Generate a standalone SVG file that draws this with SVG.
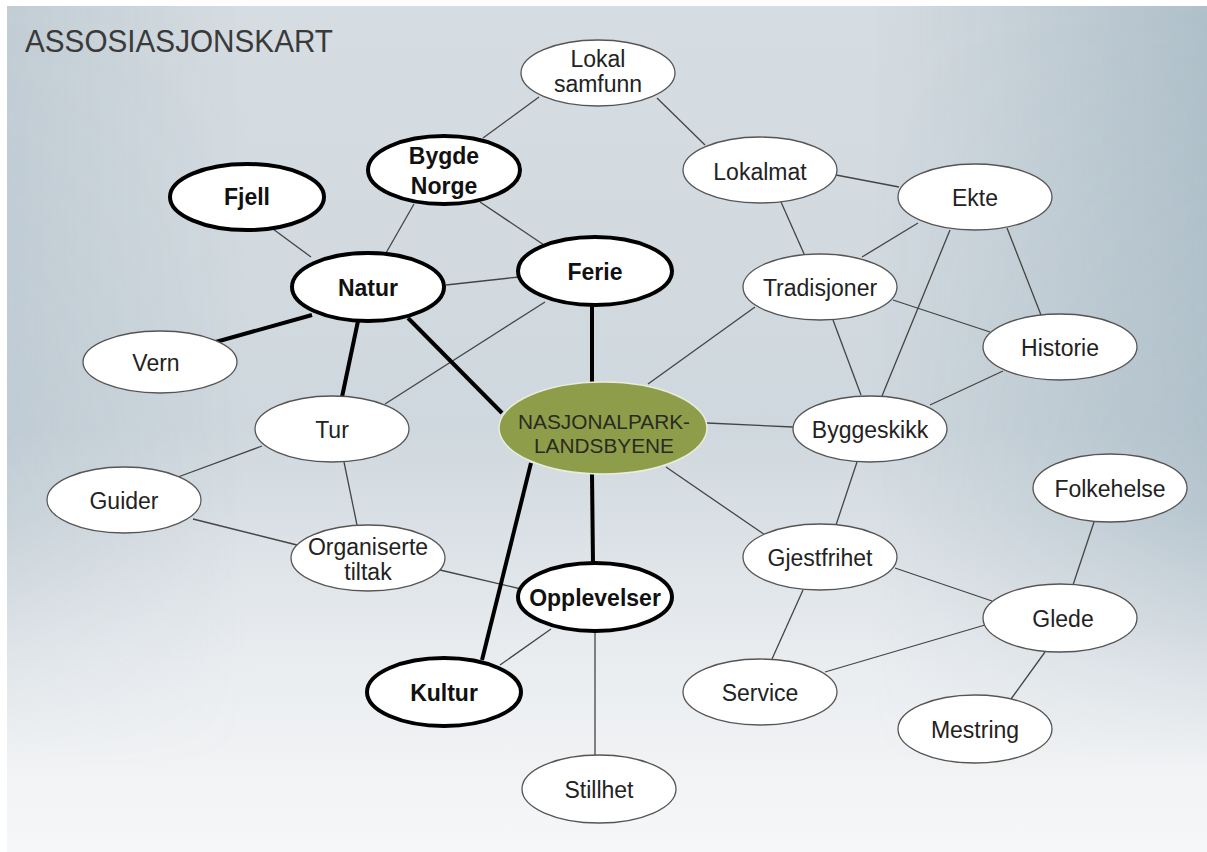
<svg xmlns="http://www.w3.org/2000/svg" width="1207" height="852" viewBox="0 0 1207 852">
<defs>
<linearGradient id="bgV" x1="0" y1="0" x2="0" y2="1">
<stop offset="0" stop-color="#d6dde2"/>
<stop offset="0.5" stop-color="#cfd8de"/>
<stop offset="0.78" stop-color="#eaedf0"/>
<stop offset="1" stop-color="#f6f7f8"/>
</linearGradient>
<linearGradient id="bgH" x1="0" y1="0" x2="1" y2="0">
<stop offset="0" stop-color="#93a8b6" stop-opacity="0.3"/>
<stop offset="0.2" stop-color="#93a8b6" stop-opacity="0"/>
<stop offset="0.72" stop-color="#93a8b6" stop-opacity="0"/>
<stop offset="1" stop-color="#8fa7b5" stop-opacity="0.55"/>
</linearGradient>
<linearGradient id="fadeV" x1="0" y1="0" x2="0" y2="1">
<stop offset="0" stop-color="#fff" stop-opacity="1"/>
<stop offset="0.6" stop-color="#fff" stop-opacity="0.8"/>
<stop offset="0.9" stop-color="#fff" stop-opacity="0"/>
</linearGradient>
<mask id="m">
<rect x="0" y="0" width="1207" height="852" fill="url(#fadeV)"/>
</mask>
</defs>
<style>
.thin{fill:#fff;stroke:#555;stroke-width:1.3}
.thick{fill:#fff;stroke:#000;stroke-width:4}
.t{font-family:"Liberation Sans",Arial,sans-serif;font-size:23px;fill:#222;text-anchor:middle}
.b{font-family:"Liberation Sans",Arial,sans-serif;font-size:23px;font-weight:bold;fill:#111;text-anchor:middle}
.c{font-family:"Liberation Sans",Arial,sans-serif;font-size:20px;fill:#2a2a22;text-anchor:middle}
.ln{stroke:#444;stroke-width:1.3;fill:none}
.lk{stroke:#000;stroke-width:4;fill:none}
</style>
<rect x="0" y="0" width="1207" height="852" fill="#fff"/>
<rect x="7" y="6" width="1200" height="846" fill="url(#bgV)"/>
<rect x="7" y="6" width="1200" height="846" fill="url(#bgH)" mask="url(#m)"/>
<text x="25" y="52" font-family="Liberation Sans,Arial,sans-serif" font-size="32" fill="#3a3a3a" textLength="308" lengthAdjust="spacingAndGlyphs">ASSOSIASJONSKART</text>

<g id="connectors">
<line class="ln" x1="539" y1="97" x2="483" y2="138"/>
<line class="ln" x1="657" y1="98" x2="705" y2="145"/>
<line class="ln" x1="414" y1="204" x2="386" y2="253"/>
<line class="ln" x1="480" y1="202" x2="544" y2="245"/>
<line class="ln" x1="273" y1="229" x2="311" y2="257"/>
<line class="ln" x1="446" y1="285" x2="519" y2="277"/>
<line class="ln" x1="836" y1="175" x2="899" y2="187"/>
<line class="ln" x1="781" y1="202" x2="805" y2="256"/>
<line class="ln" x1="918" y1="223" x2="862" y2="257"/>
<line class="ln" x1="950" y1="230" x2="882" y2="396"/>
<line class="ln" x1="1007" y1="228" x2="1041" y2="315"/>
<line class="ln" x1="893" y1="300" x2="990" y2="332"/>
<line class="ln" x1="833" y1="320" x2="861" y2="395"/>
<line class="ln" x1="1003" y1="371" x2="930" y2="405"/>
<line class="ln" x1="755" y1="307" x2="648" y2="384"/>
<line class="ln" x1="545" y1="302" x2="385" y2="404"/>
<line class="ln" x1="707" y1="423" x2="793" y2="427"/>
<line class="ln" x1="666" y1="467" x2="765" y2="535"/>
<line class="ln" x1="262" y1="446" x2="178" y2="477"/>
<line class="ln" x1="344" y1="462" x2="357" y2="525"/>
<line class="ln" x1="193" y1="519" x2="297" y2="545"/>
<line class="ln" x1="440" y1="570" x2="521" y2="589"/>
<line class="ln" x1="551" y1="629" x2="500" y2="665"/>
<line class="ln" x1="595" y1="631" x2="595" y2="755"/>
<line class="ln" x1="857" y1="462" x2="836" y2="525"/>
<line class="ln" x1="803" y1="590" x2="772" y2="659"/>
<line class="ln" x1="895" y1="568" x2="992" y2="601"/>
<line class="ln" x1="825" y1="672" x2="985" y2="625"/>
<line class="ln" x1="1094" y1="522" x2="1073" y2="585"/>
<line class="ln" x1="1045" y1="652" x2="1011" y2="699"/>
<line class="lk" x1="312" y1="315" x2="205" y2="345"/>
<line class="lk" x1="358" y1="321" x2="342" y2="397"/>
<line class="lk" x1="408" y1="318" x2="502" y2="413"/>
<line class="lk" x1="592" y1="305" x2="592" y2="383"/>
<line class="lk" x1="592" y1="474" x2="593" y2="563"/>
<line class="lk" x1="531" y1="463" x2="482" y2="660"/>
</g>

<g id="n-lokalsamfunn"><ellipse class="thin" cx="598" cy="73" rx="77" ry="33"/><text class="t" x="598" y="67" font-size="21">Lokal</text><text class="t" x="598" y="92" font-size="21">samfunn</text></g>
<g id="n-bygdenorge"><ellipse class="thick" cx="444" cy="170" rx="76" ry="34"/><text class="b" x="444" y="164">Bygde</text><text class="b" x="444" y="194">Norge</text></g>
<g id="n-fjell"><ellipse class="thick" cx="247" cy="197" rx="77" ry="33"/><text class="b" x="247" y="205">Fjell</text></g>
<g id="n-natur"><ellipse class="thick" cx="368" cy="287" rx="76" ry="34"/><text class="b" x="368" y="296">Natur</text></g>
<g id="n-ferie"><ellipse class="thick" cx="595" cy="271" rx="77" ry="34"/><text class="b" x="595" y="280">Ferie</text></g>
<g id="n-lokalmat"><ellipse class="thin" cx="760" cy="170" rx="77" ry="33"/><text class="t" x="760" y="180">Lokalmat</text></g>
<g id="n-ekte"><ellipse class="thin" cx="975" cy="197" rx="77" ry="33"/><text class="t" x="975" y="206">Ekte</text></g>
<g id="n-tradisjoner"><ellipse class="thin" cx="820" cy="287" rx="77" ry="33"/><text class="t" x="820" y="296">Tradisjoner</text></g>
<g id="n-historie"><ellipse class="thin" cx="1060" cy="347" rx="77" ry="33"/><text class="t" x="1060" y="356">Historie</text></g>
<g id="n-vern"><ellipse class="thin" cx="160" cy="362" rx="77" ry="31"/><text class="t" x="156" y="371">Vern</text></g>
<g id="n-tur"><ellipse class="thin" cx="332" cy="429" rx="77" ry="33"/><text class="t" x="332" y="438">Tur</text></g>
<g id="n-nasjonalpark"><ellipse cx="603" cy="428" rx="104" ry="46" fill="#8e9d4a" stroke="#e9ecdc" stroke-width="1.5"/><text class="c" x="604" y="429" textLength="172" lengthAdjust="spacingAndGlyphs">NASJONALPARK-</text><text class="c" x="604" y="453" textLength="140" lengthAdjust="spacingAndGlyphs">LANDSBYENE</text></g>
<g id="n-byggeskikk"><ellipse class="thin" cx="870" cy="429" rx="77" ry="33"/><text class="t" x="870" y="438">Byggeskikk</text></g>
<g id="n-guider"><ellipse class="thin" cx="124" cy="500" rx="77" ry="33"/><text class="t" x="124" y="509">Guider</text></g>
<g id="n-organiserte"><ellipse class="thin" cx="368" cy="558" rx="77" ry="33"/><text class="t" x="368" y="555" font-size="22">Organiserte</text><text class="t" x="368" y="580" font-size="22">tiltak</text></g>
<g id="n-opplevelser"><ellipse class="thick" cx="595" cy="597" rx="77" ry="34"/><text class="b" x="595" y="606">Opplevelser</text></g>
<g id="n-kultur"><ellipse class="thick" cx="444" cy="692" rx="77" ry="34"/><text class="b" x="444" y="701">Kultur</text></g>
<g id="n-stillhet"><ellipse class="thin" cx="599" cy="789" rx="77" ry="34"/><text class="t" x="599" y="798">Stillhet</text></g>
<g id="n-gjestfrihet"><ellipse class="thin" cx="820" cy="557" rx="77" ry="33"/><text class="t" x="820" y="566">Gjestfrihet</text></g>
<g id="n-service"><ellipse class="thin" cx="760" cy="692" rx="77" ry="33"/><text class="t" x="760" y="701">Service</text></g>
<g id="n-folkehelse"><ellipse class="thin" cx="1110" cy="488" rx="77" ry="34"/><text class="t" x="1110" y="497">Folkehelse</text></g>
<g id="n-glede"><ellipse class="thin" cx="1060" cy="618" rx="77" ry="34"/><text class="t" x="1063" y="627">Glede</text></g>
<g id="n-mestring"><ellipse class="thin" cx="975" cy="729" rx="77" ry="34"/><text class="t" x="975" y="738">Mestring</text></g>
</svg>
